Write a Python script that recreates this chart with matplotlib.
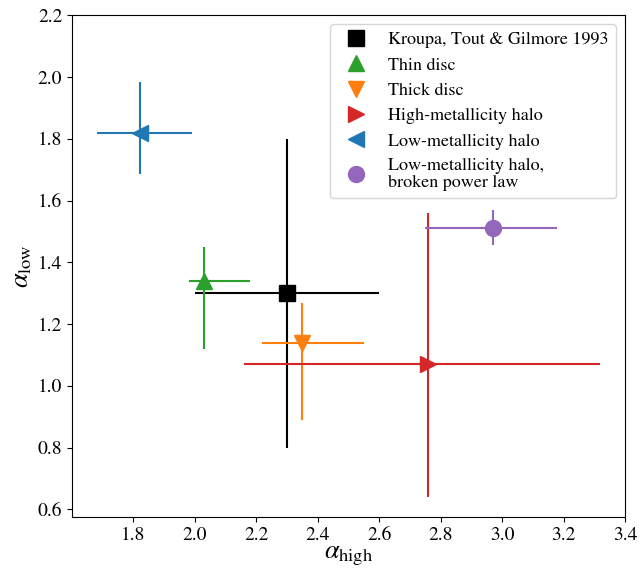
import matplotlib
matplotlib.use("Agg")
import matplotlib.pyplot as plt
import numpy as np

plt.rcParams['font.family'] = ['STIXGeneral', 'DejaVu Serif']
plt.rcParams['mathtext.fontset'] = 'stix'

labels = ["Kroupa, Tout & Gilmore 1993", "Thin disc", "Thick disc",
          "High-metallicity halo", "Low-metallicity halo",
          "Low-metallicity halo,\nbroken power law"]
alpha_high = [2.30, 2.03, 2.35, 2.76, 1.82, 2.97]
alpha_high_err_lo = [0.30, 0.05, 0.13, 0.60, 0.14, 0.22]
alpha_high_err_hi = [0.30, 0.15, 0.20, 0.56, 0.17, 0.21]
alpha_low = [1.30, 1.34, 1.14, 1.07, 1.82, 1.51]
alpha_low_err_lo = [0.50, 0.22, 0.25, 0.43, 0.135, 0.055]
alpha_low_err_hi = [0.50, 0.11, 0.13, 0.49, 0.165, 0.06]
colors = ["black", "tab:green", "tab:orange", "tab:red", "tab:blue", "tab:purple"]
markers = ["s", "^", "v", ">", "<", "o"]

fig = plt.figure(figsize=(6.39, 5.73), dpi=100)
ax = fig.add_axes([0.1127, 0.0977, 0.978 - 0.1127, 0.973 - 0.0977])

for i in range(len(labels)):
    ax.errorbar([alpha_high[i]], [alpha_low[i]],
                xerr=[[alpha_high_err_lo[i]], [alpha_high_err_hi[i]]],
                yerr=[[alpha_low_err_lo[i]], [alpha_low_err_hi[i]]],
                fmt='none', ecolor=colors[i], elinewidth=1.5, capsize=0)
    ax.plot([alpha_high[i]], [alpha_low[i]], linestyle='none', marker=markers[i],
            color=colors[i], markersize=11.5, label=labels[i])

ax.set_xlim(1.6, 3.4)
ax.set_ylim(0.575, 2.2)
ax.set_xticks(np.arange(1.8, 3.41, 0.2))
ax.set_yticks(np.arange(0.6, 2.21, 0.2))
ax.tick_params(labelsize=14)
ax.set_xlabel(r'$\alpha_\mathrm{high}$', fontsize=19, labelpad=0)
ax.set_ylabel(r'$\alpha_\mathrm{low}$', fontsize=19, labelpad=2)
leg = ax.legend(loc='upper right', fontsize=13, borderaxespad=0.5, labelspacing=0.48)
leg.get_texts()[-1].set_linespacing(1.05)

fig.savefig("out.png", dpi=100)
